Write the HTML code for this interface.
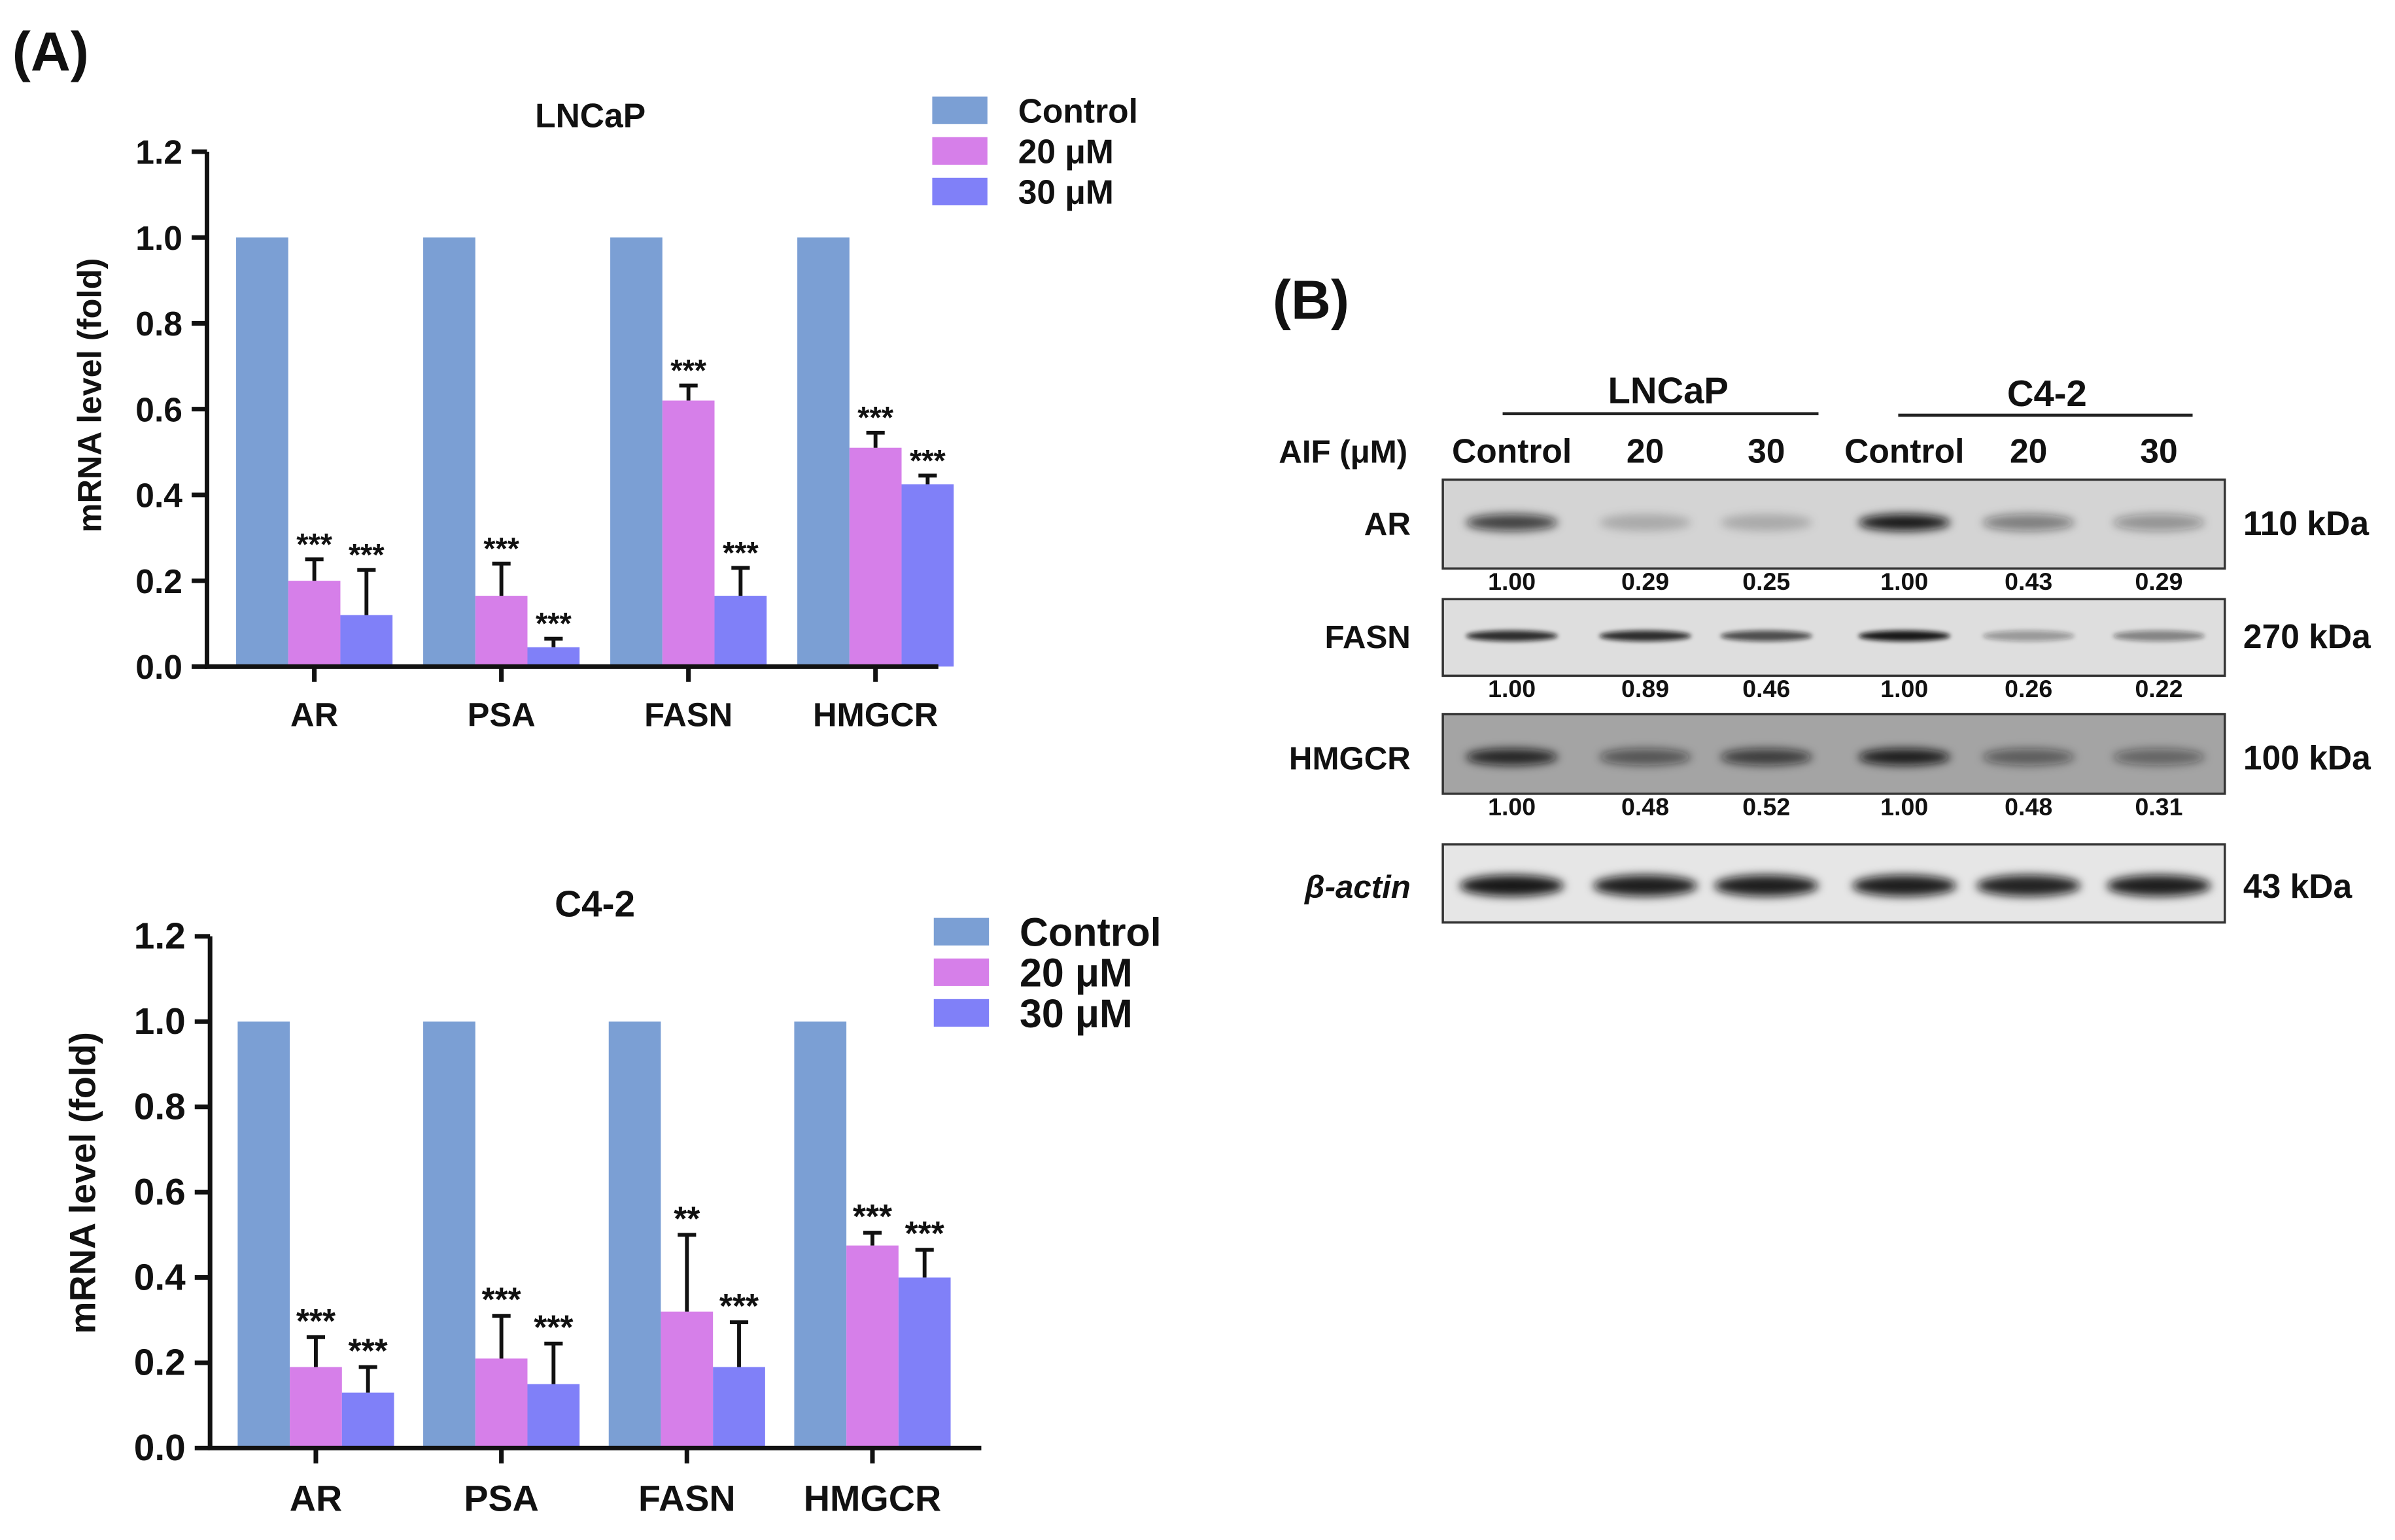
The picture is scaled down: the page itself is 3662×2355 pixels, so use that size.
<!DOCTYPE html>
<html><head><meta charset="utf-8"><style>
html,body{margin:0;padding:0;background:#fff}
svg{display:block}
text{font-family:"Liberation Sans",Arial,sans-serif;font-weight:bold;fill:#111}
</style></head><body>
<svg id="fig" width="3662" height="2355" viewBox="0 0 1562 1005" preserveAspectRatio="none" xmlns="http://www.w3.org/2000/svg">
<defs>
<filter id="blur" x="-30%" y="-100%" width="160%" height="300%"><feGaussianBlur stdDeviation="3"/></filter>
<filter id="blur2" x="-30%" y="-100%" width="160%" height="300%"><feGaussianBlur stdDeviation="1.5"/></filter>
</defs>
<text x="8" y="46" font-size="36">(A)</text>
<text x="830" y="208" font-size="36">(B)</text>
<g id="chartTop"></g>
<g id="chartBot"></g>
<g id="blot"></g>
</svg>
<script>
const categories = ["AR","PSA","FASN","HMGCR"];
const seriesNames = ["Control","20 μM","30 μM"];
const topControl = [1,1,1,1];
const top20 = [0.20,0.165,0.62,0.51];
const top20Err = [0.05,0.075,0.035,0.035];
const top30 = [0.12,0.045,0.165,0.425];
const top30Err = [0.105,0.02,0.065,0.02];
const top20Sig = ["***","***","***","***"];
const top30Sig = ["***","***","***","***"];
const botControl = [1,1,1,1];
const bot20 = [0.19,0.21,0.32,0.475];
const bot20Err = [0.07,0.10,0.18,0.03];
const bot30 = [0.13,0.15,0.19,0.40];
const bot30Err = [0.06,0.095,0.105,0.065];
const bot20Sig = ["***","***","**","***"];
const bot30Sig = ["***","***","***","***"];
const yTicks = ["0.0","0.2","0.4","0.6","0.8","1.0","1.2"];
const colors = ["#7b9fd4","#d67fe9","#8080f8"];

const NS="http://www.w3.org/2000/svg";
function el(tag,attrs,parent,txt){const e=document.createElementNS(NS,tag);for(const k in attrs)e.setAttribute(k,attrs[k]);if(txt!==undefined)e.textContent=txt;parent.appendChild(e);return e;}

function drawChart(g,cfg){
  const y=v=>cfg.y0-v*cfg.ppu;
  const xc=i=>cfg.x0c+cfg.gap*i;
  const bw=34;
  const t=el('text',{x:cfg.titleX,y:cfg.titleY,'font-size':cfg.fs*1.1,'text-anchor':'middle'},g,cfg.title);
  
  
  const vals=[cfg.c,cfg.s20,cfg.s30];
  const errs=[null,cfg.e20,cfg.e30];
  const sigs=[null,cfg.g20,cfg.g30];
  for(let i=0;i<categories.length;i++){
    for(let s=0;s<3;s++){
      const x=xc(i)-bw*1.5+bw*s;
      const v=vals[s][i];
      const r=el('rect',{x:x,y:y(v),width:bw,height:y(0)-y(v),fill:colors[s]},g);
      
      
      if(errs[s]){
        const top=v+errs[s][i];
        const cx=x+bw/2;
        const l=el('path',{d:`M${cx} ${y(v)}V${y(top)}M${cx-6} ${y(top)}H${cx+6}`,stroke:'#111','stroke-width':2.5,fill:'none'},g);
        
        
        const st=el('text',{x:cx,y:y(top)-3,'font-size':cfg.fs*1.0,'text-anchor':'middle'},g,sigs[s][i]);
        
        
      }
    }
    const lab=el('text',{x:xc(i),y:cfg.catY,'font-size':cfg.fs*1.08,'text-anchor':'middle'},g,categories[i]);
    
    
    el('line',{x1:xc(i),x2:xc(i),y1:y(0),y2:y(0)+10,stroke:'#111','stroke-width':3},g);
  }
  for(let k=0;k<yTicks.length;k++){
    const v=parseFloat(yTicks[k]);
    el('line',{x1:cfg.xa-10,x2:cfg.xa,y1:y(v),y2:y(v),stroke:'#111','stroke-width':3},g);
    const tl=el('text',{x:cfg.xa-16,y:y(v)+8,'font-size':cfg.fs*1.1,'text-anchor':'end'},g,yTicks[k]);
    
    
  }
  el('path',{d:`M${cfg.xa} ${y(1.2)}V${y(0)}H${cfg.xEnd}`,stroke:'#111','stroke-width':3,fill:'none'},g);
  const yt=el('text',{x:0,y:0,'font-size':cfg.fs*1.08,'text-anchor':'middle',transform:`translate(${cfg.ytX},${cfg.ytY}) rotate(-90)`},g,'mRNA level (fold)');
  
  
  for(let s=0;s<3;s++){
    const ly=cfg.legY+cfg.legStep*s;
    const sw=el('rect',{x:cfg.legX,y:ly-9,width:36,height:18,fill:colors[s]},g);
    
    
    const lt=el('text',{x:cfg.legX+56,y:ly+cfg.legFs*0.36,'font-size':cfg.legFs},g,seriesNames[s]);
    
    
  }
}
drawChart(document.getElementById('chartTop'),{y0:435,ppu:280,x0c:205,gap:122,xa:135,xEnd:612,catY:474,fs:20,
  title:'LNCaP',titleX:385,titleY:83,ytX:66,ytY:258,legX:608,legY:72,legStep:26.5,legFs:22,
  c:topControl,s20:top20,e20:top20Err,s30:top30,e30:top30Err,g20:top20Sig,g30:top30Sig});
drawChart(document.getElementById('chartBot'),{y0:945,ppu:278.3,x0c:206,gap:121,xa:137,xEnd:640,catY:986,fs:22,
  title:'C4-2',titleX:388,titleY:598,ytX:62,ytY:772,legX:609,legY:608,legStep:26.5,legFs:26,
  c:botControl,s20:bot20,e20:bot20Err,s30:bot30,e30:bot30Err,g20:bot20Sig,g30:bot30Sig});

// Western blot
const laneLabels=["Control","20","30","Control","20","30"];
const laneX=[986,1073,1152,1242,1323,1408];
const blotRows=["AR","FASN","HMGCR","β-actin"];
const kda=["110 kDa","270 kDa","100 kDa","43 kDa"];
const arRatio=["1.00","0.29","0.25","1.00","0.43","0.29"];
const fasnRatio=["1.00","0.89","0.46","1.00","0.26","0.22"];
const hmgcrRatio=["1.00","0.48","0.52","1.00","0.48","0.31"];
const arBand=[0.75,0.2,0.2,0.95,0.45,0.35];
const fasnBand=[0.85,0.85,0.7,0.95,0.35,0.45];
const hmgcrBand=[0.85,0.55,0.7,0.9,0.5,0.45];
const actinBand=[0.95,0.92,0.92,0.92,0.9,0.92];
const b=document.getElementById('blot');
function T(x,y,fs,anchor,s,name,style){const t=el('text',{x:x,y:y,'font-size':fs,'text-anchor':anchor},b,s);if(style)t.setAttribute('font-style',style);return t;}
T(1088,263,24,'middle','LNCaP','lncap-header');
T(1335,265,24,'middle','C4-2','c42-header');
el('line',{x1:980,x2:1186,y1:270,y2:270,stroke:'#222','stroke-width':2},b);
el('line',{x1:1238,x2:1430,y1:271,y2:271,stroke:'#222','stroke-width':2},b);
T(918,302,21,'end','AIF (μM)','aif-label');
laneLabels.forEach((l,i)=>T(laneX[i],302,22,'middle',l,'lane-label'));
const boxes=[[313,371,'#d4d4d4'],[391,441,'#dedede'],[466,518,'#a4a4a4'],[551,602,'#e6e6e6']];
const bands=[arBand,fasnBand,hmgcrBand,actinBand];
const ratios=[arRatio,fasnRatio,hmgcrRatio,null];
const bandY=[341,415,494,578];
for(let r=0;r<4;r++){
  const [y1,y2,c]=boxes[r];
  const bx=el('rect',{x:941,y:y1,width:510,height:y2-y1,fill:c,stroke:'#333','stroke-width':1.5},b);
  
  
  for(let i=0;i<6;i++){
    const w=r===3?68:60;
    const h=r===3?14:(r===1?7:11);
    const band=el('ellipse',{cx:laneX[i],cy:bandY[r],rx:w/2,ry:h/2,fill:'#111','fill-opacity':bands[r][i],filter:r===1?'url(#blur2)':'url(#blur)'},b);
    
    
  }
  T(920,bandY[r]+8,21,'end',blotRows[r],'row-label',r===3?'italic':null);
  T(1463,bandY[r]+8,22,'start',kda[r],'kda-label');
  if(ratios[r]){ratios[r].forEach((v,i)=>T(laneX[i],y2+14,16,'middle',v,'band-ratio'));}
}
</script>
</body></html>
